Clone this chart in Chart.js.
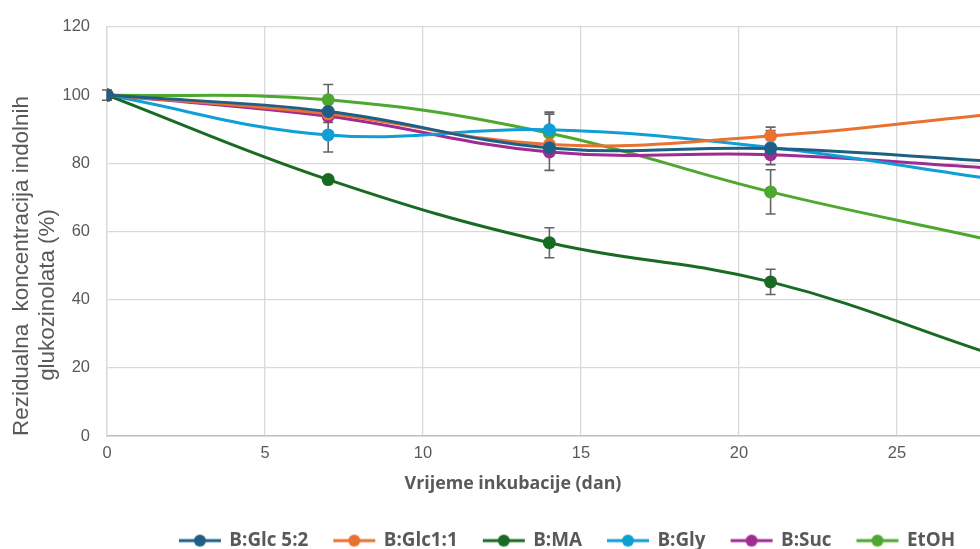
<!DOCTYPE html>
<html>
<head>
<meta charset="utf-8">
<script src="https://cdn.jsdelivr.net/npm/chart.js@4.4.1/dist/chart.umd.min.js"></script>
<style>
  html, body { margin: 0; padding: 0; background: #fff; overflow: hidden; }
  #wrap { width: 1130px; height: 560px; }
</style>
</head>
<body>
<div id="wrap"><canvas id="chart" width="1130" height="560"></canvas></div>
<script>
// days of incubation
const days = [0, 7, 14, 21, 28];

const seriesNames = ['B:Glc 5:2', 'B:Glc1:1', 'B:MA', 'B:Gly', 'B:Suc', 'EtOH'];
const seriesColors = ['#1F5F86', '#E97132', '#196B24', '#0F9ED5', '#A02B93', '#4EA72E'];

// residual concentration (%)
const glc52 = [100, 95.2, 84.5, 84.3, 80.6];
const glc11 = [100, 94.5, 85.5, 88.0, 94.4];
const ma = [100, 75.2, 56.7, 45.2, 24.0];
const gly = [100, 88.3, 89.8, 84.6, 75.4];
const suc = [100, 93.8, 83.3, 82.5, 78.6];
const etoh = [100, 98.6, 88.8, 71.6, 57.4];

// +/- error (standard deviation)
const glc52Err = [1.5, 3.2, 0, 0, 0];
const glc11Err = [0, 0, 0, 2.6, 0];
const maErr = [0, 0.8, 4.4, 3.7, 0];
const glyErr = [0, 5.0, 5.2, 5.0, 0];
const sucErr = [0, 0, 5.4, 0, 0];
const etohErr = [0, 4.5, 5.6, 6.5, 0];

const yTicks = [0, 20, 40, 60, 80, 100, 120];
const xTitle = 'Vrijeme inkubacije (dan)';
const yTitle = ['Rezidualna  koncentracija indolnih', 'glukozinolata (%)'];

const values = [glc52, glc11, ma, gly, suc, etoh];
const errors = [glc52Err, glc11Err, maErr, glyErr, sucErr, etohErr];

const greyText = '#595959';

// pick a font size so a text gets a given width
const meter = document.createElement('canvas').getContext('2d');
function fitSize(text, font, target) {
  meter.font = font.replace('SIZE', '100px');
  return 100 * target / meter.measureText(text).width;
}
const legendFont = 'bold SIZE "Open Sans"';
const legendSize = fitSize('B:Glc 5:2', legendFont, 79);
const xTitleSize = fitSize(xTitle, legendFont, 217);
const yTitleFont = 'SIZE "Liberation Sans"';
const yTitleSize = fitSize(yTitle[0], yTitleFont, 340);
const tickSize = fitSize('120', yTitleFont, 27.5);

// legend symbol: short line with a dot
function legendIcon(color) {
  const c = document.createElement('canvas');
  c.width = 44; c.height = 14;
  const g = c.getContext('2d');
  g.strokeStyle = color; g.lineWidth = 3;
  g.beginPath(); g.moveTo(1, 7); g.lineTo(43, 7); g.stroke();
  g.fillStyle = color;
  g.beginPath(); g.arc(22, 7, 6, 0, Math.PI * 2); g.fill();
  return c;
}
const icons = seriesColors.map(legendIcon);

const datasets = seriesNames.map((name, i) => ({
  label: name,
  data: days.map((d, j) => ({ x: d, y: values[i][j] })),
  errors: errors[i],
  borderColor: seriesColors[i],
  backgroundColor: seriesColors[i],
  borderWidth: 3,
  pointRadius: 6.5,
  pointBorderWidth: 0,
  tension: 0.4
}));

const errorBars = {
  id: 'errorBars',
  beforeDatasetsDraw(chart) {
    const ctx = chart.ctx;
    const xs = chart.scales.x, ys = chart.scales.y;
    ctx.save();
    ctx.strokeStyle = '#636363';
    ctx.lineWidth = 1.6;
    chart.data.datasets.forEach(ds => {
      ds.data.forEach((p, j) => {
        const e = ds.errors[j];
        if (!e) return;
        const x = xs.getPixelForValue(p.x);
        const y1 = ys.getPixelForValue(p.y + e);
        const y2 = ys.getPixelForValue(p.y - e);
        ctx.beginPath();
        ctx.moveTo(x, y1); ctx.lineTo(x, y2);
        ctx.moveTo(x - 5, y1); ctx.lineTo(x + 5, y1);
        ctx.moveTo(x - 5, y2); ctx.lineTo(x + 5, y2);
        ctx.stroke();
      });
    });
    ctx.restore();
  }
};

// legend sits centred a bit right of the canvas middle
const legendShift = {
  id: 'legendShift',
  afterLayout(chart) {
    chart.legend.left = 80;
    chart.legend.right = 1055;
  }
};

const axisTitles = {
  id: 'axisTitles',
  afterDraw(chart) {
    const ctx = chart.ctx;
    ctx.save();
    ctx.fillStyle = greyText;
    ctx.textAlign = 'center';
    ctx.textBaseline = 'middle';
    ctx.font = legendFont.replace('SIZE', xTitleSize + 'px');
    ctx.fillText(xTitle, 513, 484);
    ctx.font = yTitleFont.replace('SIZE', yTitleSize + 'px');
    ctx.translate(22, 0);
    ctx.rotate(-Math.PI / 2);
    ctx.fillText(yTitle[0], -266, 0);
    ctx.fillText(yTitle[1], -295, 26);
    ctx.restore();
  }
};

new Chart(document.getElementById('chart'), {
  type: 'line',
  data: { datasets },
  plugins: [errorBars, legendShift, axisTitles],
  options: {
    responsive: false,
    animation: false,
    layout: { padding: { left: 0, top: 23, right: 75, bottom: 0 } },
    scales: {
      x: {
        type: 'linear',
        min: 0, max: 30,
        ticks: { stepSize: 5, color: greyText, font: { family: 'Liberation Sans', size: tickSize }, padding: 8 },
        grid: { color: '#d9d9d9', lineWidth: 1.3, drawTicks: false },
        border: { color: '#bfbfbf', width: 1.5 },
        afterFit(s) { s.height = 124 - s.chart.legend.height; }
      },
      y: {
        min: 0, max: 120,
        afterBuildTicks(s) { s.ticks = yTicks.map(v => ({ value: v })); },
        ticks: { color: greyText, font: { family: 'Liberation Sans', size: tickSize }, padding: 17 },
        grid: { color: '#d9d9d9', lineWidth: 1.3, drawTicks: false },
        border: { color: '#d9d9d9', width: 1.3 },
        afterFit(s) { s.width = 107; }
      }
    },
    plugins: {
      tooltip: { enabled: false },
      legend: {
        position: 'bottom',
        labels: {
          usePointStyle: true,
          pointStyleWidth: 40,
          padding: 26,
          color: greyText,
          font: { family: 'Open Sans', size: legendSize, weight: 'bold' },
          generateLabels(chart) {
            const items = Chart.defaults.plugins.legend.labels.generateLabels(chart);
            items.forEach((it, i) => { it.pointStyle = icons[i]; });
            return items;
          }
        }
      }
    }
  }
});
</script>
</body>
</html>
